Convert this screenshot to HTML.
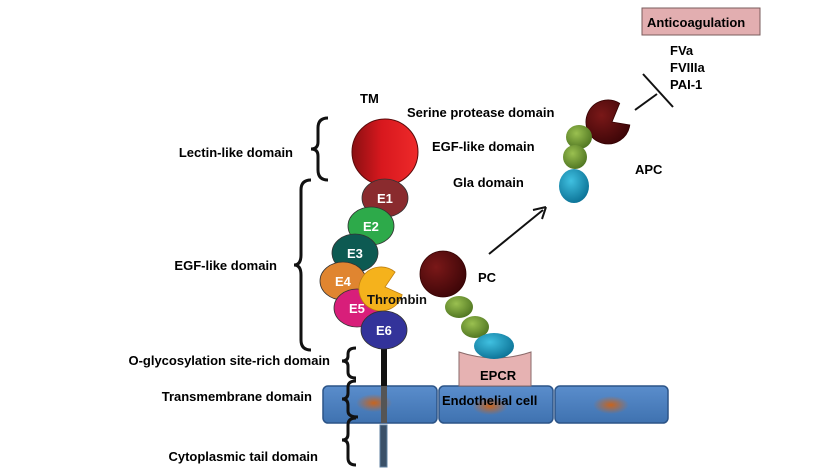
<!DOCTYPE html>
<html><head><meta charset="utf-8"><style>
html,body{margin:0;padding:0;background:#fff;}
svg{display:block;font-family:"Liberation Sans",Arial,sans-serif;font-weight:bold;}
</style></head><body>
<svg width="838" height="475" viewBox="0 0 838 475" xmlns="http://www.w3.org/2000/svg">
<defs>
<linearGradient id="red" x1="0" x2="1"><stop offset="0" stop-color="#8a0f12"/><stop offset="0.45" stop-color="#d8181e"/><stop offset="1" stop-color="#ee2a2a"/></linearGradient>
<radialGradient id="mar" cx="0.35" cy="0.35" r="0.7"><stop offset="0" stop-color="#7a1818"/><stop offset="1" stop-color="#3e0608"/></radialGradient>
<radialGradient id="grn" cx="0.4" cy="0.35" r="0.7"><stop offset="0" stop-color="#9ac050"/><stop offset="1" stop-color="#4d7320"/></radialGradient>
<radialGradient id="cyan" cx="0.4" cy="0.35" r="0.7"><stop offset="0" stop-color="#40c0e0"/><stop offset="1" stop-color="#0a7094"/></radialGradient>
<radialGradient id="blob"><stop offset="0" stop-color="#c8641e"/><stop offset="1" stop-color="#c8641e" stop-opacity="0"/></radialGradient>
<linearGradient id="cell" x1="0" y1="0" x2="0" y2="1"><stop offset="0" stop-color="#5a8dcc"/><stop offset="1" stop-color="#3f72b0"/></linearGradient>
</defs>

<g stroke="#2c5487" stroke-width="1.5" fill="url(#cell)">
<rect x="323" y="386" width="114" height="37" rx="5"/>
<rect x="439" y="386" width="114" height="37" rx="5"/>
<rect x="555" y="386" width="113" height="37" rx="5"/>
</g>
<ellipse cx="374" cy="403" rx="18" ry="9" fill="url(#blob)"/>
<ellipse cx="490" cy="406" rx="18" ry="9" fill="url(#blob)"/>
<ellipse cx="611" cy="405" rx="18" ry="9" fill="url(#blob)"/>

<path d="M459 352 Q495 364 531 352 L531 386 L459 386 Z" fill="#e6b2b2" stroke="#8a6a6a" stroke-width="1"/>
<text x="480" y="380" font-size="13">EPCR</text>
<text x="442" y="405" font-size="13">Endothelial cell</text>

<rect x="381" y="346" width="6" height="40" fill="#111"/>
<rect x="381" y="386" width="6" height="37" fill="#555"/>
<rect x="380" y="425" width="7" height="42" fill="#3a5068" stroke="#6080a0" stroke-width="1"/>

<text x="360" y="103" font-size="13">TM</text>
<circle cx="385" cy="152" r="33" fill="url(#red)" stroke="#5a0a0a" stroke-width="1"/>
<g stroke="#333" stroke-width="0.8">
<ellipse cx="385" cy="198" rx="23" ry="19" fill="#8a2b2e"/>
<ellipse cx="371" cy="226" rx="23" ry="19" fill="#2daa4a"/>
<ellipse cx="355" cy="253" rx="23" ry="19" fill="#0d5a52"/>
<ellipse cx="343" cy="281" rx="23" ry="19" fill="#e08530"/>
<ellipse cx="357" cy="308" rx="23" ry="19" fill="#d81e7a"/>
<path d="M385 287 L395.1 272.1 A22 22 0 1 0 402.2 294.7 Z" fill="#f5b21c" stroke="#c08010"/>
<ellipse cx="384" cy="330" rx="23" ry="19" fill="#33339a"/>
</g>
<g font-size="13" fill="#fff">
<text x="377" y="203">E1</text>
<text x="363" y="231">E2</text>
<text x="347" y="258">E3</text>
<text x="335" y="286">E4</text>
<text x="349" y="313">E5</text>
<text x="376" y="335">E6</text>
</g>
<text x="367" y="304" font-size="13" fill="#111">Thrombin</text>

<circle cx="443" cy="274" r="23" fill="url(#mar)" stroke="#300" stroke-width="0.8"/>
<text x="478" y="282" font-size="13">PC</text>
<ellipse cx="459" cy="307" rx="14" ry="11" fill="url(#grn)"/>
<ellipse cx="475" cy="327" rx="14" ry="11" fill="url(#grn)"/>
<ellipse cx="494" cy="346" rx="20" ry="13" fill="url(#cyan)"/>

<line x1="489" y1="254" x2="543" y2="210" stroke="#111" stroke-width="2"/>
<path d="M546 207 L533 210 M546 207 L542 219" stroke="#111" stroke-width="2" fill="none"/>

<text x="407" y="117" font-size="13">Serine protease domain</text>
<text x="432" y="151" font-size="13">EGF-like domain</text>
<text x="453" y="187" font-size="13">Gla domain</text>
<text x="635" y="174" font-size="13">APC</text>
<path d="M612 122 L619.7 103.3 A22 22 0 1 0 629.8 125 Z" fill="url(#mar)" stroke="#300" stroke-width="0.8"/>
<ellipse cx="579" cy="137" rx="13" ry="12" fill="url(#grn)"/>
<ellipse cx="575" cy="157" rx="12" ry="12" fill="url(#grn)"/>
<ellipse cx="574" cy="186" rx="15" ry="17" fill="url(#cyan)"/>
<line x1="635" y1="110" x2="657" y2="94" stroke="#111" stroke-width="2"/>
<line x1="643" y1="74" x2="673" y2="107" stroke="#111" stroke-width="2"/>

<rect x="642" y="8" width="118" height="27" fill="#e2aeb0" stroke="#7a5c5c" stroke-width="1"/>
<text x="647" y="27" font-size="13">Anticoagulation</text>
<text x="670" y="55" font-size="13">FVa</text>
<text x="670" y="72" font-size="13">FVIIIa</text>
<text x="670" y="89" font-size="13">PAI-1</text>

<g font-size="13" text-anchor="end">
<text x="293" y="157">Lectin-like domain</text>
<text x="277" y="270">EGF-like domain</text>
<text x="330" y="365">O-glycosylation site-rich domain</text>
<text x="312" y="401">Transmembrane domain</text>
<text x="318" y="461">Cytoplasmic tail domain</text>
</g>

<g fill="none" stroke="#111" stroke-width="3">
<path d="M328 118 Q318 118 318 128 L318 142 Q318 149 311 149 Q318 149 318 156 L318 170 Q318 180 328 180"/>
<path d="M311 180 Q301 180 301 190 L301 255 Q301 265 294 265 Q301 265 301 275 L301 340 Q301 350 311 350"/>
<path d="M356 348 Q348 348 348 354 L348 356 Q348 361 342 361 Q348 361 348 366 L348 372 Q348 378 356 378"/>
<path d="M356 381 Q348 381 348 387 L348 393 Q348 399 342 399 Q348 399 348 405 L348 411 Q348 417 358 417"/>
<path d="M356 418 Q348 418 348 425 L348 434 Q348 440 342 440 Q348 440 348 446 L348 458 Q348 465 356 465"/>
</g>
</svg>
</body></html>
